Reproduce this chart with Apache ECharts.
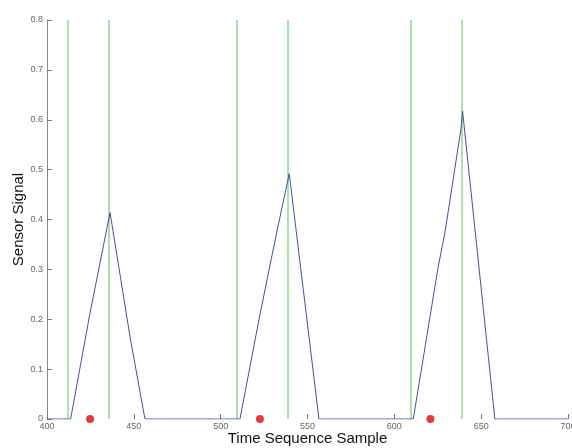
<!DOCTYPE html>
<html><head><meta charset="utf-8">
<script src="https://cdn.jsdelivr.net/npm/echarts@6/dist/echarts.min.js"></script>
<style>html,body{margin:0;padding:0;background:#fff}#c{width:572px;height:448px}</style>
</head><body><div id="c"></div>
<script>
const signalX = [400, 413.6, 424.8, 436.3, 447.8, 456.4, 511.1, 522.6, 532.2, 539.5, 556.6, 610.9, 625.3, 629.1, 638.3, 639.3, 657.9, 700];
const signalY = [0, 0, 0.213, 0.414, 0.165, 0, 0, 0.209, 0.373, 0.492, 0, 0, 0.306, 0.373, 0.58, 0.617, 0, 0];
const greenLines = [412.1, 435.7, 509.4, 538.7, 609.6, 638.9];
const redDotsX = [424.8, 522.6, 620.8];
const xTicks = [400, 450, 500, 550, 600, 650, 700];
const yTicks = [0, 0.1, 0.2, 0.3, 0.4, 0.5, 0.6, 0.7, 0.8];

const chart = echarts.init(document.getElementById('c'), null, {renderer: 'canvas'});
chart.setOption({
  animation: false,
  grid: {left: 47, right: 4, top: 20, bottom: 29, containLabel: false, outerBoundsMode: 'none'},
  xAxis: {
    type: 'value', min: 400, max: 700, interval: 50,
    name: 'Time Sequence Sample', nameLocation: 'middle', nameGap: 12, nameMoveOverlap: false,
    nameTextStyle: {fontFamily: 'Liberation Sans', fontSize: 15, color: '#111', verticalAlign: 'top'},
    axisLine: {show: false},
    axisTick: {show: true, inside: true, length: 5, lineStyle: {color: '#777'}},
    axisLabel: {fontFamily: 'Liberation Sans', fontSize: 9, color: '#666', margin: 3},
    splitLine: {show: false}
  },
  yAxis: {
    type: 'value', min: 0, max: 0.8, interval: 0.1,
    name: 'Sensor Signal', nameLocation: 'middle', nameGap: 21, nameMoveOverlap: false,
    nameTextStyle: {fontFamily: 'Liberation Sans', fontSize: 15, color: '#111'},
    axisLine: {show: true, lineStyle: {color: '#888', width: 1}},
    axisTick: {show: true, inside: true, length: 5, lineStyle: {color: '#777'}},
    axisLabel: {fontFamily: 'Liberation Sans', fontSize: 9, color: '#666', margin: 4,
      formatter: v => (Math.round(v*10)/10).toString()},
    splitLine: {show: false}
  },
  series: [
    {
      type: 'line', symbol: 'none', z: 3,
      lineStyle: {color: '#4a4f9a', width: 1},
      data: signalX.map((x, i) => [x, signalY[i]]),
      markLine: {
        silent: true, symbol: 'none', z: 2,
        label: {show: false},
        lineStyle: {color: '#8fd88f', type: 'solid', width: 1.5},
        data: greenLines.map(x => ({xAxis: x}))
      }
    },
    {
      type: 'scatter', symbol: 'circle', symbolSize: 8, z: 4,
      itemStyle: {color: '#dd0a14'},
      data: redDotsX.map(x => [x, 0])
    }
  ]
});
</script></body></html>
